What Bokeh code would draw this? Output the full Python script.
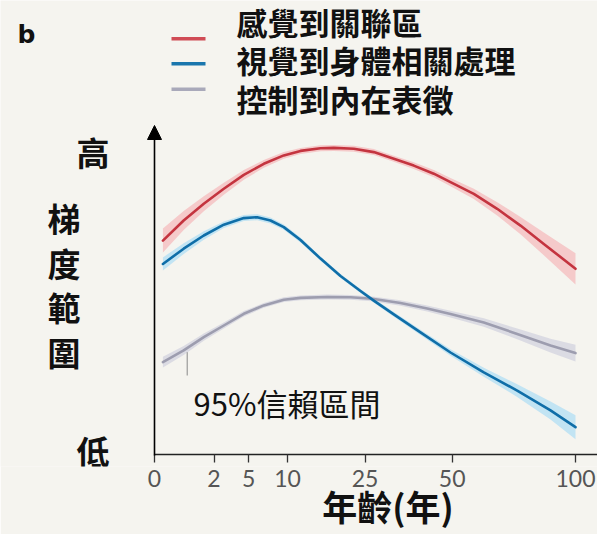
import numpy as np
from bokeh.plotting import figure
from bokeh.models import (Range1d, Label, Arrow, NormalHead, FixedTicker,
                          CustomJSTickFormatter, LinearAxis)
from bokeh.embed import file_html
from bokeh.resources import INLINE

# ---------------- data (age in years, gradient range in arbitrary units) ----------------
tick_ages = [0, 2, 5, 10, 25, 50, 100]

red_age = [0.04, 0.48, 1.37, 2.71, 4.5, 6.74, 9.43, 12.03, 15.55, 18.14, 22.41,
           27.13, 32.31, 37.93, 44.01, 49.43, 57.52, 66.26, 75.58, 85.51, 100]
red_val = [71.3, 78.0, 83.6, 88.6, 93.2, 96.9, 99.7, 101.2, 102.1, 102.2, 101.9,
           100.8, 98.6, 96.3, 93.6, 90.8, 86.9, 81.9, 76.3, 70.2, 61.9]
red_ci = [4.0, 3.2, 2.5, 2.0, 1.6, 1.3, 1.1, 1.0, 1.0, 1.0, 1.0,
          1.0, 1.0, 1.1, 1.2, 1.4, 1.7, 2.2, 2.9, 3.8, 5.2]

blue_age = [0.04, 0.48, 1.37, 2.71, 4.5, 5.95, 7.59, 9.43, 12.03, 15.55, 19.52,
            23.94, 27.13, 32.31, 39.92, 49.43, 61.18, 74.22, 88.48, 100]
blue_val = [63.5, 68.6, 73.0, 76.6, 78.8, 79.1, 78.0, 75.8, 71.5, 65.3, 59.5,
            54.5, 51.3, 46.7, 40.7, 34.0, 27.4, 21.3, 14.7, 9.1]
blue_ci = [2.2, 1.8, 1.4, 1.1, 1.0, 1.0, 1.0, 0.9, 0.8, 0.7, 0.7,
           0.7, 0.7, 0.8, 0.9, 1.1, 1.5, 2.1, 3.0, 4.0]

gray_age = [0.04, 0.48, 1.37, 2.71, 4.5, 6.74, 9.43, 12.03, 16.83, 21.67, 26.74,
            34.14, 41.96, 49.43, 61.18, 74.22, 88.48, 100]
gray_val = [30.8, 34.7, 39.1, 43.0, 46.9, 49.7, 51.6, 52.2, 52.5, 52.4, 51.9,
            50.5, 48.7, 46.8, 44.0, 40.2, 36.3, 33.8]
gray_ci = [1.8, 1.5, 1.2, 1.0, 0.9, 0.8, 0.8, 0.8, 0.8, 0.8, 0.8,
           0.9, 1.0, 1.1, 1.4, 1.8, 2.3, 2.8]

series_names = ["感覺到關聯區", "視覺到身體相關處理", "控制到內在表徵"]
y_high, y_low = "高", "低"
y_title = "梯度範圍"
x_title = "年齡(年)"
ci_label = "95%信賴區間"
panel_label = "b"

# ---------------- layout helpers (page pixel -> data) ----------------
W, H = 597, 534
X0PX, PXU = 154.0, 42.1          # x pixel of age 0, pixels per sqrt(year)
Y0PX, PYU = 454.0, 3.0           # y pixel of value 0, pixels per unit
FRAME_BOTTOM = 466


def px(xp):
    return (xp - X0PX) / PXU


def py(yp):
    return (Y0PX - yp) / PYU


BG = "#f5f4ef"
CJK = "Noto Sans CJK TC"

p = figure(width=W, height=H, output_backend="svg", toolbar_location=None,
           x_range=Range1d(px(0), px(W)), y_range=Range1d(py(FRAME_BOTTOM), py(0)),
           min_border_left=0, min_border_right=0, min_border_top=0,
           min_border_bottom=H - FRAME_BOTTOM, y_axis_location=None)
p.title.visible = False
p.background_fill_color = BG
p.border_fill_color = BG
p.outline_line_color = None
p.grid.visible = False

ax = p.xaxis[0]
ax.ticker = FixedTicker(ticks=[float(np.sqrt(a)) for a in tick_ages])
ax.formatter = CustomJSTickFormatter(code="return String(Math.round(tick*tick));")
ax.axis_line_color = None
ax.major_tick_line_color = "#333333"
ax.major_tick_line_width = 1.3
ax.major_tick_in = 12
ax.major_tick_out = -4
ax.minor_tick_line_color = None
ax.major_label_text_font = "Lato"
ax.major_label_text_font_size = "23px"
ax.major_label_text_color = "#555555"
ax.major_label_standoff = 3

# x-axis title, carried by a second axis so it can sit right of centre
title_x = float(px(387.5))
ax2 = LinearAxis(ticker=FixedTicker(ticks=[title_x]),
                 major_label_overrides={title_x: x_title},
                 axis_line_color=None, major_tick_line_color=None,
                 minor_tick_line_color=None, major_tick_in=0, major_tick_out=0,
                 major_label_standoff=-10,
                 major_label_text_font=CJK, major_label_text_font_style="bold",
                 major_label_text_font_size="35px", major_label_text_color="#111111")
p.add_layout(ax2, "below")

# ---------------- bands and lines ----------------
series = [
    (red_age, red_val, red_ci, "#c4343f", "#f4c2c3"),
    (blue_age, blue_val, blue_ci, "#0f6ea8", "#b9e0f3"),
    (gray_age, gray_val, gray_ci, "#9d9daf", "#d6d6e1"),
]
for age, val, ci, lc, bc in series:
    x = np.sqrt(np.array(age))
    v = np.array(val)
    c = np.array(ci)
    p.varea(x=x, y1=v - c, y2=v + c, fill_color=bc, fill_alpha=0.85)

for idx in [2, 1, 0]:
    age, val, ci, lc, bc = series[idx]
    p.line(x=np.sqrt(np.array(age)), y=np.array(val), line_color=lc,
           line_width=2.6, line_cap="round", line_join="round")

# ---------------- axes drawn as marks ----------------
p.segment(x0=[px(X0PX)], y0=[py(Y0PX)], x1=[px(W)], y1=[py(Y0PX)],
          line_color="#222222", line_width=1.6)
p.add_layout(Arrow(end=NormalHead(size=14, fill_color="black", line_color="black"),
                   x_start=px(X0PX), y_start=py(455), x_end=px(X0PX), y_end=py(125),
                   line_color="black", line_width=1.6))

# ---------------- legend ----------------
leg_cols = ["#d04b55", "#1a76ad", "#a9a9ba"]
leg_line_y = [38.3, 63.3, 88.7]
leg_text_y = [20.5, 59.0, 97.5]
for name, col, ly, ty in zip(series_names, leg_cols, leg_line_y, leg_text_y):
    p.segment(x0=[px(171)], y0=[py(ly)], x1=[px(205)], y1=[py(ly)],
              line_color=col, line_width=3.5)
    p.add_layout(Label(x=px(236), y=py(ty), text=name, text_font=CJK,
                       text_font_style="bold", text_font_size="31px",
                       text_color="#111111", text_align="left", text_baseline="middle"))

# ---------------- texts ----------------
p.add_layout(Label(x=px(17), y=py(34), text=panel_label, text_font="DejaVu Sans",
                   text_font_style="bold", text_font_size="25px", text_color="#111111",
                   text_align="left", text_baseline="alphabetic"))
p.add_layout(Label(x=px(92.5), y=py(151), text=y_high, text_font=CJK,
                   text_font_style="bold", text_font_size="33px", text_color="#111111",
                   text_align="center", text_baseline="middle"))
p.add_layout(Label(x=px(92.5), y=py(450), text=y_low, text_font=CJK,
                   text_font_style="bold", text_font_size="33px", text_color="#111111",
                   text_align="center", text_baseline="middle"))
p.add_layout(Label(x=px(63.5), y=py(284.5), text="\n".join(y_title), text_font=CJK,
                   text_font_style="bold", text_font_size="33px", text_color="#111111",
                   text_align="center", text_baseline="middle", text_line_height=0.93))
p.add_layout(Label(x=px(193), y=py(402), text=ci_label, text_font=CJK,
                   text_font_size="31px", text_color="#111111",
                   text_align="left", text_baseline="middle"))
p.segment(x0=[px(186.7)], y0=[py(351.7)], x1=[px(186.7)], y1=[py(375)],
          line_color="#888888", line_width=1)

open("out.html", "w").write(file_html(p, INLINE))
